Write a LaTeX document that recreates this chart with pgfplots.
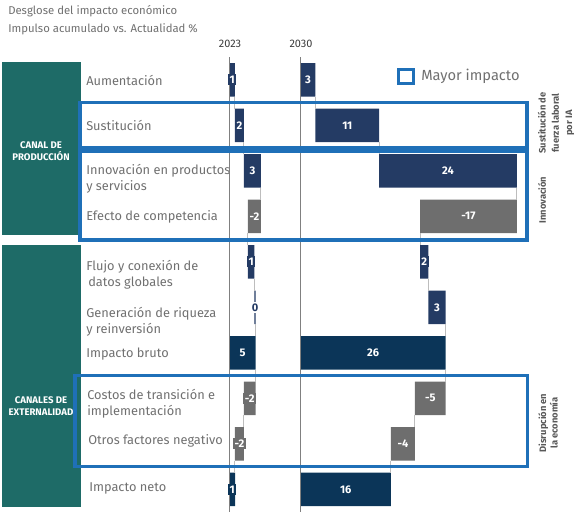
\documentclass[border=0pt]{standalone}
\usepackage{pgfplots}
\pgfplotsset{compat=1.18}
\usepackage{pgfplotstable}
\usepackage{fontspec}
\setmainfont{Fira Sans}

\definecolor{posc}{HTML}{243B64}
\definecolor{totc}{HTML}{0B3558}
\definecolor{negc}{HTML}{6E6E6E}
\definecolor{tealc}{HTML}{1E6B67}
\definecolor{bluec}{HTML}{1F70B8}
\definecolor{txtc}{HTML}{707070}
\definecolor{titc}{HTML}{6F6F6F}
\definecolor{sidec}{HTML}{585858}
\definecolor{connc}{HTML}{BDBDBD}
\definecolor{basec}{HTML}{808080}
\definecolor{yearc}{HTML}{3A3A3A}

% 2023: invisible base, positive step, negative step, total
\pgfplotstableread{
y base pos neg tot
0 0    1.0  0    0
1 1.0  1.6  0    0
2 2.6  3.0  0    0
3 3.3  0    2.3  0
4 3.3  1.12 0    0
5 4.42 0.25 0    0
6 0    0    0    4.67
7 2.6  0    2.07 0
8 1.0  0    1.6  0
9 0    0    0    1.05
}\dataA

% 2030
\pgfplotstableread{
y base pos neg tot
0 0     2.65  0     0
1 2.65  11.25 0     0
2 13.9  24.4  0     0
3 21.15 0     17.15 0
4 21.15 1.5   0     0
5 22.65 3.05  0     0
6 0     0     0     25.7
7 20.25 0     5.45  0
8 16.0  0     4.25  0
9 0     0     0     16.0
}\dataB

\pgfplotsset{
  panel/.style={x=4.2375pt, y=34.125pt, y dir=reverse, ymin=-0.5, ymax=9.5, xmin=0,
    hide axis, clip=false, anchor=north west},
  bars/.style={panel, xbar stacked, bar width=25.125pt, bar shift=0pt},
  lab/.style={draw=none, mark=none, point meta=explicit symbolic, nodes near coords,
    nodes near coords align={center},
    every node near coord/.append style={font=\fontsize{8.3}{10}\selectfont\bfseries,
      text=white, inner sep=1.2pt, fill=#1}},
  conn/.style={connc, line width=0.75pt, mark=none, unbounded coords=jump},
}

\begin{document}
\begin{tikzpicture}
\begin{scope}[x=0.75pt,y=-0.75pt]
\path[use as bounding box] (0,0) rectangle (581,514);
% title
\node[anchor=base west, inner sep=0, text=titc, font=\fontsize{8.5}{10}\selectfont] at (8,14.3) {Desglose del impacto económico};
\node[anchor=base west, inner sep=0, text=titc, font=\fontsize{8.5}{10}\selectfont] at (8,32.7) {Impulso acumulado vs. Actualidad \%};
% years
\node[text=yearc, font=\fontsize{8.2}{10}\selectfont] at (230,44) {2023};
\node[text=yearc, font=\fontsize{8.2}{10}\selectfont] at (301,44) {2030};
% teal boxes
\fill[tealc] (2,62) rectangle (80.5,235);
\fill[tealc] (2,245) rectangle (80.5,506.5);
\node[align=center, text=white, font=\fontsize{7.2}{9}\selectfont\bfseries] at (41,151) {CANAL DE\\PRODUCCIÓN};
\node[align=center, text=white, font=\fontsize{7.2}{9}\selectfont\bfseries] at (41,406) {CANALES DE\\EXTERNALIDAD};
% row labels
\begin{scope}[every node/.style={anchor=base west, inner sep=0, text=txtc, font=\fontsize{9.6}{12}\selectfont}]
\node at (86,85) {Aumentación};
\node at (86,130.7) {Sustitución};
\node at (86,174.3) {Innovación en productos};
\node at (86,190) {y servicios};
\node at (86,220.7) {Efecto de competencia};
\node at (86,270.7) {Flujo y conexión de};
\node at (88,286) {datos globales};
\node at (86,317.3) {Generación de riqueza};
\node at (86,333.3) {y reinversión};
\node at (86,357.7) {Impacto bruto};
\node at (87,399) {Costos de transición e};
\node at (87,415.7) {implementación};
\node at (88,444) {Otros factores negativo};
\node at (89,491) {Impacto neto};
\end{scope}
% legend
\draw[bluec, line width=2.5pt] (398.7,69.7) rectangle (413.3,83.3);
\node[anchor=west, inner sep=0, text=txtc, font=\fontsize{11}{13}\selectfont] at (421,76.5) {Mayor impacto};
% side labels
\node[rotate=90, align=center, text=sidec, font=\fontsize{7}{10}\selectfont\bfseries] at (556,123) {Sustitución de\\fuerza laboral\\por IA};
\node[rotate=90, align=center, text=sidec, font=\fontsize{7}{10}\selectfont\bfseries] at (542,200) {Innovación};
\node[rotate=90, align=center, text=sidec, font=\fontsize{7}{8.6}\selectfont\bfseries] at (548,423) {Disrupción en\\la economía};
\end{scope}

% ---- 2023 panel
\begin{axis}[bars, xmax=12.5, at={(171.975pt,-42.7875pt)}]
\addplot[draw=none, fill=none] table[x=base, y=y] {\dataA};
\addplot[draw=none, fill=posc] table[x=pos, y=y] {\dataA};
\addplot[draw=none, fill=negc] table[x=neg, y=y] {\dataA};
\addplot[draw=none, fill=totc] table[x=tot, y=y] {\dataA};
\end{axis}
\begin{axis}[panel, xmax=12.5, at={(171.975pt,-42.7875pt)}]
\draw[basec, line width=1pt] (axis cs:0,-0.5) -- (axis cs:0,9.5);
\addplot[conn] coordinates {(1.0,0.368) (1.0,0.632) (nan,nan) (2.6,1.368) (2.6,1.632) (nan,nan) (5.6,2.368) (5.6,2.632) (nan,nan) (3.3,3.368) (3.3,3.632) (nan,nan) (4.42,4.368) (4.42,4.632) (nan,nan) (4.67,5.368) (4.67,5.632) (nan,nan) (4.67,6.368) (4.67,6.632) (nan,nan) (2.6,7.368) (2.6,7.632) (nan,nan) (1.0,8.368) (1.0,8.632)};
\addplot[lab=posc] coordinates {(0.5,0) [1] (1.8,1) [2] (4.1,2) [3] (3.86,4) [1]};
\addplot[lab=negc] coordinates {(4.45,3) [-2] (3.63,7) [-2] (1.8,8) [-2]};
\addplot[lab=totc] coordinates {(2.33,6) [5] (0.52,9) [1]};
\addplot[lab=white, every node near coord/.append style={text=posc}] coordinates {(4.55,5) [0]};
\end{axis}

% ---- 2030 panel
\begin{axis}[bars, xmax=40, at={(225.375pt,-42.7875pt)}]
\addplot[draw=none, fill=none] table[x=base, y=y] {\dataB};
\addplot[draw=none, fill=posc] table[x=pos, y=y] {\dataB};
\addplot[draw=none, fill=negc] table[x=neg, y=y] {\dataB};
\addplot[draw=none, fill=totc] table[x=tot, y=y] {\dataB};
\end{axis}
\begin{axis}[panel, xmax=40, at={(225.375pt,-42.7875pt)}]
\draw[basec, line width=1pt] (axis cs:0,-0.5) -- (axis cs:0,9.5);
\addplot[conn] coordinates {(2.65,0.368) (2.65,0.632) (nan,nan) (13.9,1.368) (13.9,1.632) (nan,nan) (38.3,2.368) (38.3,2.632) (nan,nan) (21.15,3.368) (21.15,3.632) (nan,nan) (22.65,4.368) (22.65,4.632) (nan,nan) (25.7,5.368) (25.7,5.632) (nan,nan) (25.7,6.368) (25.7,6.632) (nan,nan) (20.25,7.368) (20.25,7.632) (nan,nan) (16.0,8.368) (16.0,8.632)};
\addplot[lab=posc] coordinates {(1.33,0) [3] (8.28,1) [11] (26.1,2) [24] (21.9,4) [2] (24.18,5) [3]};
\addplot[lab=negc] coordinates {(29.73,3) [-17] (22.98,7) [-5] (18.13,8) [-4]};
\addplot[lab=totc] coordinates {(12.85,6) [26] (8.0,9) [16]};
\end{axis}

% highlight boxes on top
\begin{scope}[x=0.75pt,y=-0.75pt]
\draw[bluec, line width=2.5pt] (80,102.7) rectangle (527,148);
\draw[bluec, line width=2.5pt] (80,151.3) rectangle (527,240);
\draw[bluec, line width=2.5pt] (75,375.5) rectangle (527.5,466.5);
\end{scope}
\end{tikzpicture}
\end{document}
